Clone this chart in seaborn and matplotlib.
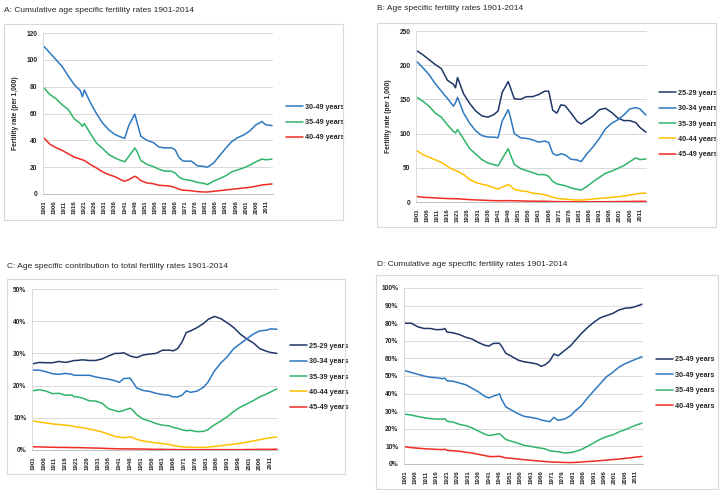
import seaborn as sns
import matplotlib.pyplot as plt
from matplotlib.patches import Rectangle
from matplotlib.ticker import MultipleLocator, FixedLocator, PercentFormatter

sns.set_style("white")
plt.rcParams['font.family'] = ['Liberation Sans', 'DejaVu Sans']

YEARS = [1901, 1904, 1907, 1910, 1913, 1916, 1919, 1920, 1921, 1924, 1927, 1930, 1933, 1936,
         1939, 1941, 1943, 1946, 1947, 1949, 1952, 1955, 1958, 1961, 1964, 1966, 1968, 1970,
         1972, 1974, 1977, 1980, 1982, 1985, 1988, 1991, 1994, 1997, 2000, 2003, 2006, 2009,
         2011, 2014]

# A: cumulative age specific fertility rates (per 1,000)
a_30_49 = [110, 105, 100, 95, 88, 81.5, 77, 72.5, 77.5, 68, 60, 53, 48, 44.5,
           42.5, 41.5, 51, 59.5, 54, 43, 40, 38.5, 35, 34.3, 34.5, 33, 27, 24.5,
           24.5, 24.5, 21, 20.6, 20, 23, 28.5, 34, 39, 42, 44, 47, 51.5, 54,
           51.5, 51]
a_35_49 = [79, 74, 71, 66.5, 63, 56, 52.5, 50.5, 52.5, 45, 38, 34, 29.5, 27,
           25, 24, 28, 34.3, 32, 25, 22, 20.6, 18.5, 17, 17, 15.7, 12.5, 11,
           10.5, 10, 8.7, 8, 7, 9.5, 11.5, 13.5, 16.5, 18, 19.5, 21.5, 24, 26,
           25.5, 26]
a_40_49 = [41.7, 37, 34.5, 32.5, 30, 27.5, 26, 25.5, 25, 22, 19.4, 16.5, 14.5, 13,
           10.7, 9.5, 10.7, 13.2, 12.5, 10, 8.2, 7.7, 6.5, 6.2, 5.7, 4.8, 3.5, 2.8,
           2.7, 2.4, 1.8, 1.5, 1.5, 2, 2.5, 3, 3.5, 4, 4.5, 5, 5.8, 6.7,
           7, 7.5]

# B: age specific fertility rates (per 1,000)
b_25_29 = [221, 215, 208, 201, 195, 178, 172, 167, 182, 158, 144, 133, 126, 124,
           128, 133, 160, 176, 168, 151, 150, 154, 154, 157, 162, 162, 134, 130,
           142, 141, 130, 118, 114, 120, 126, 135, 137, 131, 123, 119, 119, 116,
           109, 102]
b_30_34 = [205, 196, 186, 173, 162, 151.5, 140, 145, 153, 130, 115, 104, 97, 95,
           94.7, 94, 118, 135, 125, 100, 94, 93, 91, 87.5, 89, 87, 71, 68,
           70.5, 69, 62.5, 61.5, 59, 71, 81, 93, 107, 115, 120, 127, 136, 138,
           136, 127]
b_35_39 = [153, 147, 140, 130, 124, 113, 103, 101, 106, 92, 78, 70, 62, 57,
           54.5, 53, 63, 78, 70, 55, 49, 46, 43, 40, 40, 37.5, 30, 26.5,
           25, 24, 20.5, 18.5, 17.5, 23, 30, 36, 42, 45, 49, 53, 59, 64.5,
           62, 63]
b_40_44 = [75, 69, 65.5, 61.7, 57.8, 52, 47, 46, 45, 40, 33, 28.5, 26, 24,
           20.8, 19, 21.8, 25.2, 23.8, 18.5, 16.5, 15.5, 13, 12, 10.7, 9.2, 6.8, 5.3,
           4.6, 4.2, 3.4, 2.9, 2.9, 3.4, 4.4, 5.3, 5.8, 6.8, 7.8, 8.7, 10.2, 11.6,
           12.6, 13]
b_45_49 = [8, 7, 6.5, 6, 5.5, 5, 4.8, 4.8, 4.8, 4, 3.5, 3, 2.7, 2.3,
           2, 1.9, 1.9, 2, 2, 1.8, 1.6, 1.4, 1.2, 1.1, 1, 0.9, 0.7, 0.6,
           0.5, 0.4, 0.3, 0.3, 0.3, 0.3, 0.3, 0.4, 0.4, 0.5, 0.6, 0.7, 0.8, 0.9,
           1, 1]

# C: age specific contribution to total fertility rate (%)
c_25_29 = [26.8, 27.2, 27.1, 27.1, 27.5, 27.2, 27.6, 27.8, 27.8, 28, 27.8, 27.8, 28.3, 29.2,
           30, 30, 30.2, 29.2, 29, 28.7, 29.5, 29.8, 30, 31, 31, 30.8, 31.5, 33.5,
           36.5, 37, 38, 39.3, 40.5, 41.5, 40.8, 39.5, 38, 36, 34.5, 33.3, 31.5, 30.7,
           30.3, 30]
c_30_34 = [24.8, 24.8, 24.3, 23.7, 23.5, 23.8, 23.5, 23.2, 23.2, 23.2, 23.2, 22.7, 22.3, 22,
           21.5, 21, 22.2, 22.3, 21.3, 19.3, 18.5, 18.2, 17.6, 17.2, 17, 16.5, 16.5, 17,
           18.4, 17.9, 18.3, 19.5, 21, 24.5, 27, 29, 31.5, 33, 34.5, 36, 37, 37.2,
           37.6, 37.5]
c_35_39 = [18.4, 18.7, 18.3, 17.5, 17.6, 17, 17.1, 16.5, 16.6, 16.1, 15.3, 15.2, 14.5, 12.8,
           12.2, 11.9, 12.3, 13, 12.5, 11, 9.6, 9, 8.2, 7.7, 7.5, 7, 6.7, 6.3,
           6, 6.1, 5.7, 5.8, 6.3, 7.8, 9, 10.3, 12, 13.3, 14.3, 15.3, 16.5, 17.3,
           18, 19]
c_40_44 = [9, 8.7, 8.4, 8.1, 7.9, 7.7, 7.5, 7.3, 7.2, 6.9, 6.5, 6.1, 5.6, 4.9,
           4.2, 4, 3.8, 4.1, 3.9, 3.3, 2.8, 2.5, 2.2, 2, 1.7, 1.4, 1.2, 1,
           0.9, 0.9, 0.8, 0.8, 0.9, 1.1, 1.3, 1.6, 1.8, 2.1, 2.4, 2.8, 3.2, 3.6,
           3.8, 4.1]
c_45_49 = [1, 0.95, 0.9, 0.85, 0.8, 0.8, 0.75, 0.75, 0.75, 0.7, 0.65, 0.6, 0.55, 0.45,
           0.4, 0.35, 0.35, 0.35, 0.35, 0.3, 0.3, 0.25, 0.2, 0.2, 0.15, 0.15, 0.1, 0.1,
           0.1, 0.1, 0.1, 0.1, 0.1, 0.1, 0.1, 0.1, 0.1, 0.1, 0.15, 0.15, 0.2, 0.2,
           0.2, 0.25]

# D: cumulative age specific share (%)
d_25_49 = [80, 80, 78, 77, 77, 76.3, 76.5, 77, 75, 74.5, 73.5, 72, 71, 69,
           67.5, 67, 68.5, 68.6, 67, 63, 61, 59, 58, 57.5, 56.8, 55.5, 56.5, 58.5,
           62.5, 61.5, 64.4, 67.2, 70, 74, 77.5, 80.5, 83, 84.3, 85.5, 87.5, 88.5, 88.8,
           89.5, 90.8]
d_30_49 = [53, 52, 51, 50, 49.3, 49, 48.5, 48.8, 47.3, 47, 46, 45, 43, 41,
           38.5, 37.5, 38.5, 39.8, 37, 32.5, 30.5, 28.5, 27, 26.5, 25.8, 25, 24.5, 24,
           26.5, 24.8, 25.5, 27.5, 30, 33, 37.5, 41.5, 45.5, 49.5, 52, 55, 57, 58.5,
           59.5, 61]
d_35_49 = [28.3, 27.8, 27, 26.3, 25.8, 25.5, 25.5, 25.7, 24.3, 23.8, 22.5, 21.8, 20.5, 18.7,
           17, 16.2, 16.5, 17.2, 16.2, 14, 12.8, 11.8, 10.5, 10, 9.3, 9, 8.5, 7.5,
           7.2, 7, 6.3, 6.5, 7, 8.2, 10, 12, 14, 15.5, 16.5, 18.2, 19.5, 21,
           22, 23.2]
d_40_49 = [9.8, 9.3, 9, 8.7, 8.5, 8.3, 8.2, 8.4, 7.8, 7.5, 7.2, 6.7, 6.2, 5.5,
           4.8, 4.3, 4.2, 4.4, 4.1, 3.5, 3.2, 2.8, 2.4, 2.1, 1.8, 1.6, 1.4, 1.2,
           1.1, 1, 0.9, 0.8, 0.9, 1.1, 1.4, 1.6, 1.9, 2.2, 2.5, 2.8, 3.2, 3.6,
           3.9, 4.3]

NAVY, BLUE, GREEN, YELLOW, RED = '#1f3668', '#2e78c0', '#2fb46a', '#ffc000', '#ee2b25'

W, H = 720, 492
fig = plt.figure(figsize=(W / 100, H / 100), dpi=100)


def px_axes(x0, y0, x1, y1):
    return fig.add_axes([x0 / W, 1 - y1 / H, (x1 - x0) / W, (y1 - y0) / H])


def frame(x0, y0, x1, y1):
    fig.patches.append(Rectangle((x0 / W, 1 - y1 / H), (x1 - x0) / W, (y1 - y0) / H,
                                 transform=fig.transFigure, fill=False,
                                 edgecolor='#d9d9d9', lw=0.8))


def panel(box, fbox, title, tpos, series, ymax, ystep, leg_pos, pct=False, ylabel=None):
    frame(*fbox)
    fig.text(tpos[0] / W, 1 - tpos[1] / H, title, fontsize=6.0, va='center', ha='left')
    ax = px_axes(*box)
    for vals, col, lab in series:
        sns.lineplot(x=YEARS, y=vals, ax=ax, color=col, lw=1.1, label=lab)
    ax.set_xlim(1900.5, 2014.5)
    ax.set_ylim(0, ymax)
    ax.yaxis.set_major_locator(MultipleLocator(ystep))
    if pct:
        ax.yaxis.set_major_formatter(PercentFormatter(decimals=0))
    ax.xaxis.set_major_locator(FixedLocator(list(range(1901, 2015, 5))))
    ax.xaxis.set_minor_locator(MultipleLocator(1))
    ax.grid(axis='y', color='#d9d9d9', lw=0.7)
    ax.set_axisbelow(True)
    for s in ['top', 'right']:
        ax.spines[s].set_visible(False)
    ax.spines['left'].set_color('#d9d9d9')
    ax.spines['bottom'].set_color('#bfbfbf')
    ax.spines['left'].set_linewidth(0.7)
    ax.spines['bottom'].set_linewidth(0.7)
    ax.tick_params(axis='y', length=0, labelsize=4.8, pad=4)
    ax.tick_params(axis='x', which='major', length=2.5, color='#bfbfbf', labelsize=4.4,
                   rotation=90, pad=2)
    ax.tick_params(axis='x', which='minor', length=1.5, color='#bfbfbf')
    for lbl in ax.get_xticklabels() + ax.get_yticklabels():
        lbl.set_fontweight('bold')
    if ylabel:
        ax.set_ylabel(ylabel, fontsize=4.8, fontweight='bold', labelpad=5)
    else:
        ax.set_ylabel('')
    ax.set_xlabel('')
    ax.legend(loc='center left', bbox_to_anchor=(leg_pos[0] / W, 1 - leg_pos[1] / H),
              bbox_transform=fig.transFigure, frameon=False, borderpad=0,
              prop={'size': 5.2, 'weight': 'bold'}, handlelength=2.4, handletextpad=0.25,
              labelspacing=1.15)
    return ax


panel((43, 33, 273, 194), (4, 24, 343, 220),
      'A: Cumulative age specific fertility rates 1901-2014', (4, 11),
      [(a_30_49, BLUE, '30-49 years'), (a_35_49, GREEN, '35-49 years'),
       (a_40_49, RED, '40-49 years')],
      120, 20, (282, 122.5), ylabel='Fertility rate (per 1,000)')

panel((416, 31, 647, 202), (377, 23, 716, 227),
      'B: Age specific fertility rates 1901-2014', (377, 8),
      [(b_25_29, NAVY, '25-29 years'), (b_30_34, BLUE, '30-34 years'),
       (b_35_39, GREEN, '35-39 years'), (b_40_44, YELLOW, '40-44 years'),
       (b_45_49, RED, '45-49 years')],
      250, 50, (655, 124), ylabel='Fertility rate (per 1,000)')

panel((32, 289, 278, 450), (7, 279, 345, 474),
      'C: Age specific contribution to total fertility rates 1901-2014', (7, 266),
      [(c_25_29, NAVY, '25-29 years'), (c_30_34, BLUE, '30-34 years'),
       (c_35_39, GREEN, '35-39 years'), (c_40_44, YELLOW, '40-44 years'),
       (c_45_49, RED, '45-49 years')],
      50, 10, (286, 377), pct=True)

panel((404, 288, 643, 464), (376, 275, 718, 489),
      'D: Cumulative age specific fertility rates 1901-2014', (377, 265),
      [(d_25_49, NAVY, '25-49 years'), (d_30_49, BLUE, '30-49 years'),
       (d_35_49, GREEN, '35-49 years'), (d_40_49, RED, '40-49 years')],
      100, 10, (652, 383), pct=True)

fig.savefig('out.png', dpi=100)
